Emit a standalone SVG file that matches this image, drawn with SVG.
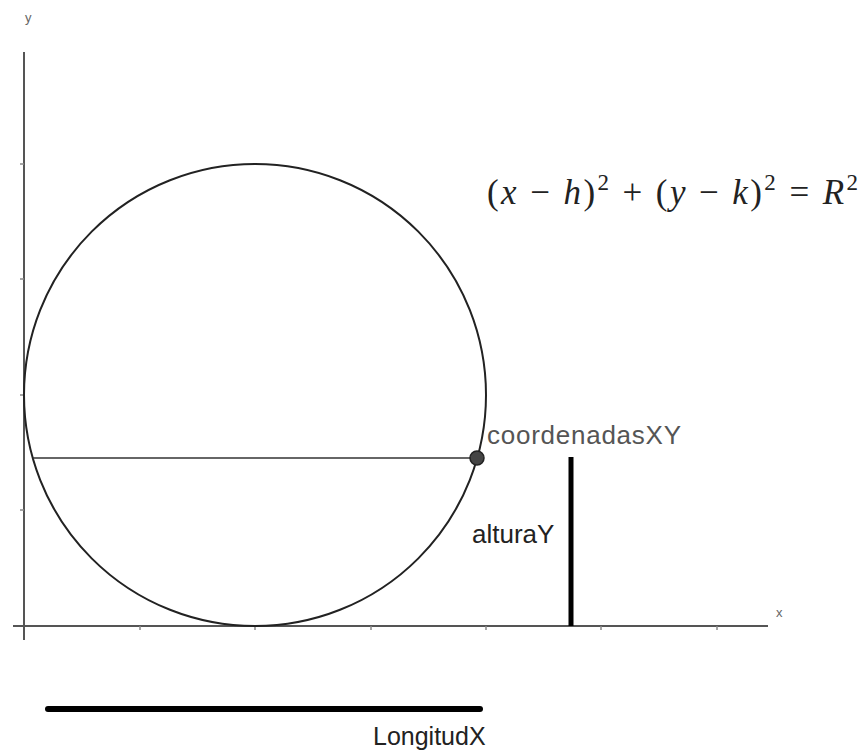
<svg xmlns="http://www.w3.org/2000/svg" width="863" height="751" viewBox="0 0 863 751">
<style>
.axis{stroke:#555;stroke-width:2;fill:none}
.tick{stroke:#888;stroke-width:1.5}
.lbl{font-family:"Liberation Sans",Arial,sans-serif;fill:#222}
.small{font-family:"Liberation Sans",Arial,sans-serif;font-size:13px;fill:#666}
.thick{stroke:#000;stroke-width:5;stroke-linecap:round}
.math{font-family:"Liberation Serif","Times New Roman",serif;font-size:35px;fill:#222}
.it{font-style:italic}
</style>
<rect width="863" height="751" fill="#fff"/>
<g id="axes">
<line class="axis" x1="24" y1="52" x2="24" y2="640"/>
<line class="axis" x1="13" y1="626" x2="768" y2="626"/>
<g class="tick">
<line x1="140" y1="626" x2="140" y2="630"/>
<line x1="255" y1="626" x2="255" y2="630"/>
<line x1="371" y1="626" x2="371" y2="630"/>
<line x1="486" y1="626" x2="486" y2="630"/>
<line x1="601" y1="626" x2="601" y2="630"/>
<line x1="717" y1="626" x2="717" y2="630"/>
<line x1="20" y1="510" x2="24" y2="510"/>
<line x1="20" y1="395" x2="24" y2="395"/>
<line x1="20" y1="279" x2="24" y2="279"/>
<line x1="20" y1="164" x2="24" y2="164"/>
</g>
<text class="small" x="25" y="22">y</text>
<text class="small" x="776" y="617">x</text>
</g>
<g id="circle">
<circle cx="255" cy="395" r="231" fill="none" stroke="#222" stroke-width="2"/>
</g>
<g id="connectors">
<line x1="33" y1="458" x2="477" y2="458" stroke="#333" stroke-width="1.6"/>
</g>
<g id="coordenadasXY">
<circle cx="477" cy="458" r="7" fill="#444" stroke="#222" stroke-width="1.5"/>
<text class="lbl" x="487" y="444" font-size="26" style="fill:#555" textLength="194" lengthAdjust="spacing">coordenadasXY</text>
</g>
<g id="alturaY">
<line class="thick" x1="571" y1="457" x2="571" y2="626" style="stroke-linecap:butt"/>
<text class="lbl" x="472" y="543" font-size="26">alturaY</text>
</g>
<g id="LongitudX">
<line class="thick" x1="48" y1="709" x2="480" y2="709" style="stroke-width:6"/>
<text class="lbl" x="373" y="745" font-size="25">LongitudX</text>
</g>
<g id="formula">
<text class="math" x="487" y="204" textLength="371" lengthAdjust="spacing">(<tspan class="it">x</tspan> − <tspan class="it">h</tspan>)<tspan font-size="23" dy="-14">2</tspan><tspan dy="14"> + (</tspan><tspan class="it">y</tspan> − <tspan class="it">k</tspan>)<tspan font-size="23" dy="-14">2</tspan><tspan dy="14"> = </tspan><tspan class="it">R</tspan><tspan font-size="23" dy="-14">2</tspan></text>
</g>
</svg>
